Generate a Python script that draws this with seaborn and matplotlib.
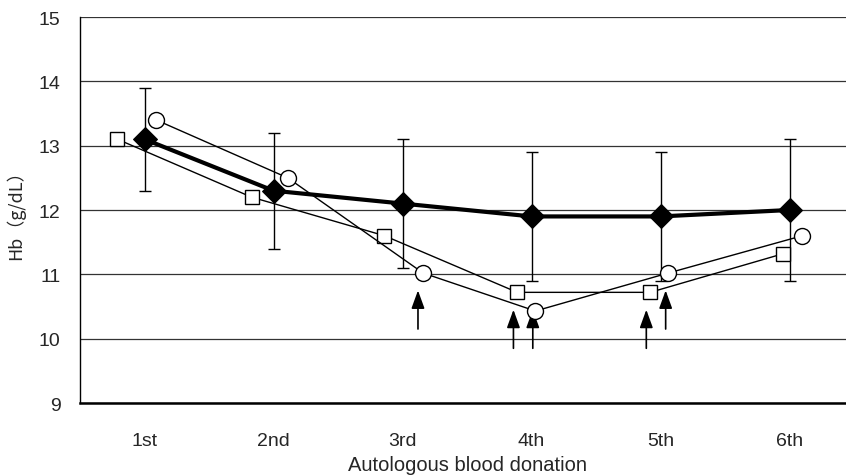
import matplotlib.pyplot as plt
import seaborn as sns
import pandas as pd

# Hb values
categories = ['1st', '2nd', '3rd', '4th', '5th', '6th']
mean_hb = [13.1, 12.3, 12.1, 11.9, 11.9, 12.0]
sd_hb = [0.8, 0.9, 1.0, 1.0, 1.0, 1.1]

# individual cases, plotted slightly off the category centre
square_x = [-0.21, 0.83, 1.86, 2.89, 3.92, 4.95]
square_hb = [13.1, 12.2, 11.6, 10.72, 10.72, 11.32]
circle_x = [0.09, 1.11, 2.16, 3.03, 4.06, 5.10]
circle_hb = [13.4, 12.5, 11.02, 10.43, 11.02, 11.6]

# arrows (position, tip value)
arrow_x = [2.12, 2.86, 3.01, 3.89, 4.04]
arrow_tip = [10.75, 10.45, 10.45, 10.45, 10.75]

sns.set_style('white')
plt.rcParams['font.family'] = ['Liberation Sans Narrow', 'DejaVu Sans Condensed', 'Liberation Sans', 'DejaVu Sans']

mean_df = pd.DataFrame({'x': range(len(categories)), 'hb': mean_hb})
square_df = pd.DataFrame({'x': square_x, 'hb': square_hb})
circle_df = pd.DataFrame({'x': circle_x, 'hb': circle_hb})

fig = plt.figure(figsize=(8.46, 4.77), dpi=100)
ax = fig.add_axes([80 / 846, 73 / 477, 774 / 846, 386 / 477])

ax.errorbar(mean_df['x'], mean_df['hb'], yerr=sd_hb, fmt='none', ecolor='black',
            elinewidth=1, capsize=4.5, capthick=1, zorder=3)
sns.lineplot(data=square_df, x='x', y='hb', sort=False, ax=ax, color='black', lw=1,
             marker='s', markersize=10.5, markerfacecolor='white', markeredgecolor='black',
             markeredgewidth=1, zorder=4)
sns.lineplot(data=circle_df, x='x', y='hb', sort=False, ax=ax, color='black', lw=1,
             marker='o', markersize=11.5, markerfacecolor='white', markeredgecolor='black',
             markeredgewidth=1, zorder=4)
sns.lineplot(data=mean_df, x='x', y='hb', sort=False, ax=ax, color='black', lw=3,
             marker='D', markersize=12, markerfacecolor='black', markeredgecolor='black',
             zorder=5)

for xa, ya in zip(arrow_x, arrow_tip):
    ax.annotate('', xy=(xa, ya), xytext=(xa, ya - 0.6),
                arrowprops=dict(arrowstyle='-|>,head_width=0.4,head_length=1.1',
                                color='black', lw=1.2, shrinkA=0, shrinkB=0))

ax.set_xlim(-0.5, 5.5)
ax.set_ylim(9, 15)
ax.set_yticks(range(9, 16))
ax.yaxis.grid(True, color='#333333', lw=0.9)
ax.set_axisbelow(True)
ax.tick_params(axis='y', length=0, pad=14, labelsize=14)

ax.set_xticks([0.5, 1.5, 2.5, 3.5, 4.5])
ax.set_xticklabels([])
ax.set_xticks(range(len(categories)), minor=True)
ax.set_xticklabels(categories, minor=True)
ax.tick_params(axis='x', which='major', direction='in', length=7, width=1, color='black')
ax.tick_params(axis='x', which='minor', length=0, pad=21, labelsize=14)

for s in ['top', 'right']:
    ax.spines[s].set_visible(False)
ax.spines['left'].set_color('black')
ax.spines['left'].set_linewidth(1)
ax.spines['bottom'].set_color('black')
ax.spines['bottom'].set_linewidth(1.8)

ax.set_xlabel('Autologous blood donation', fontsize=14.5, labelpad=4)
ax.set_ylabel('Hb（g/dL）', fontsize=13, labelpad=10,
              family=['Noto Sans CJK JP', 'DejaVu Sans'])

fig.savefig('out.png', dpi=100)
